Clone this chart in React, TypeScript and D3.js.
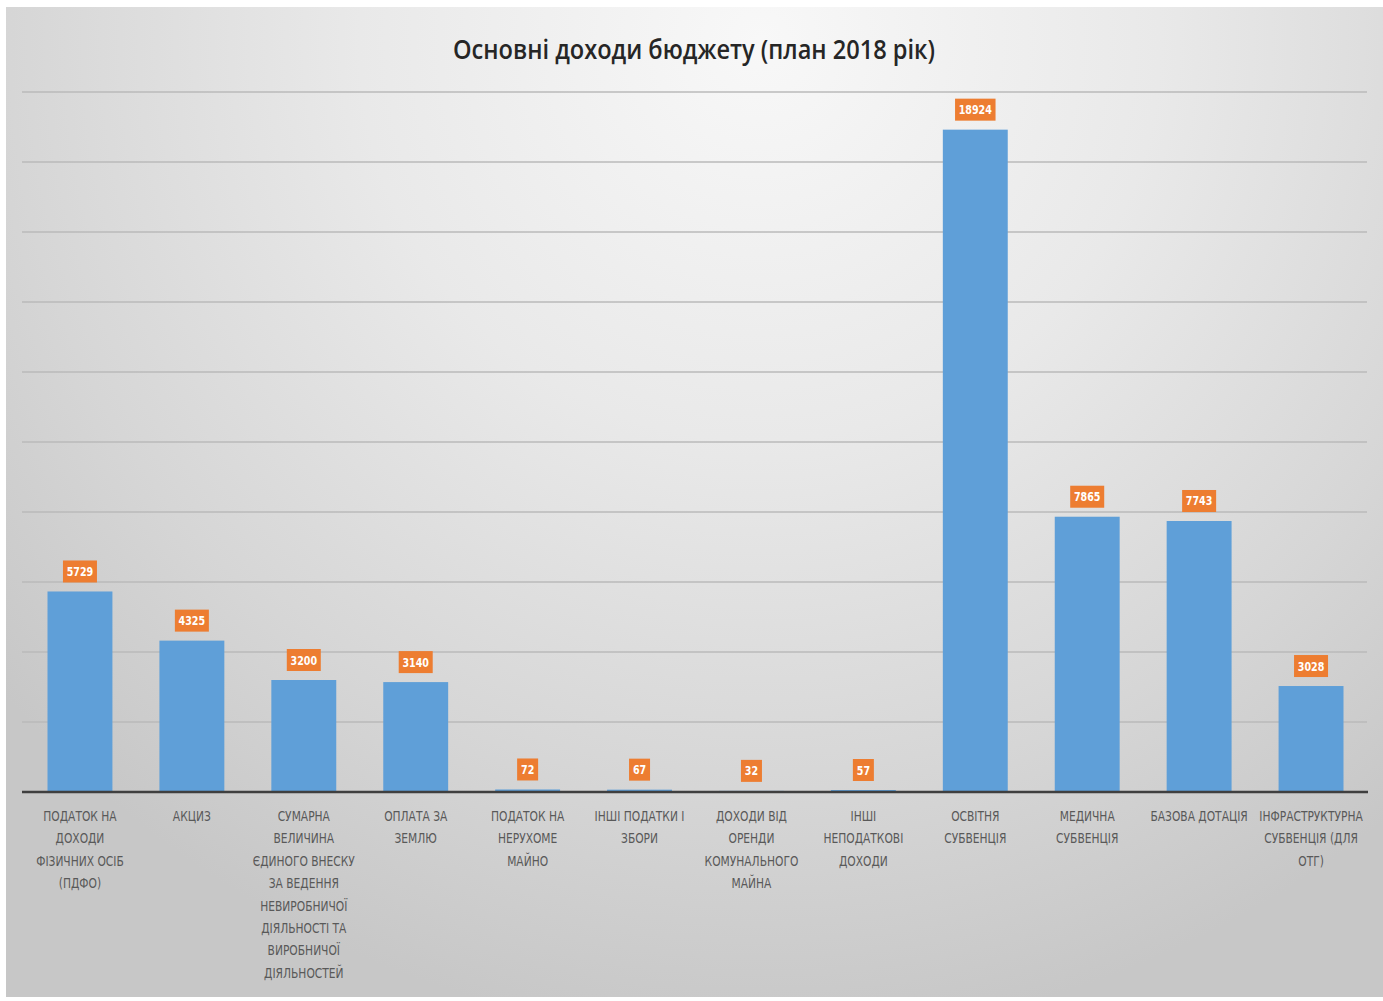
import * as d3 from "d3"

const categories = [
  "ПОДАТОК НА\nДОХОДИ\nФІЗИЧНИХ ОСІБ\n(ПДФО)",
  "АКЦИЗ",
  "СУМАРНА\nВЕЛИЧИНА\nЄДИНОГО ВНЕСКУ\nЗА ВЕДЕННЯ\nНЕВИРОБНИЧОЇ\nДІЯЛЬНОСТІ ТА\nВИРОБНИЧОЇ\nДІЯЛЬНОСТЕЙ",
  "ОПЛАТА ЗА\nЗЕМЛЮ",
  "ПОДАТОК НА\nНЕРУХОМЕ\nМАЙНО",
  "ІНШІ ПОДАТКИ І\nЗБОРИ",
  "ДОХОДИ ВІД\nОРЕНДИ\nКОМУНАЛЬНОГО\nМАЙНА",
  "ІНШІ\nНЕПОДАТКОВІ\nДОХОДИ",
  "ОСВІТНЯ\nСУБВЕНЦІЯ",
  "МЕДИЧНА\nСУБВЕНЦІЯ",
  "БАЗОВА ДОТАЦІЯ",
  "ІНФРАСТРУКТУРНА\nСУБВЕНЦІЯ (ДЛЯ\nОТГ)",
]

const values = [5729, 4325, 3200, 3140, 72, 67, 32, 57, 18924, 7865, 7743, 3028]

const yTicks = [0, 2000, 4000, 6000, 8000, 10000, 12000, 14000, 16000, 18000, 20000]

const title = "Основні доходи бюджету (план 2018 рік)"

const W = 1383
const H = 1001
const narrow = "'Liberation Sans Narrow', 'DejaVu Sans Condensed', 'Liberation Sans', sans-serif"

export default function App() {
  const x = d3.scaleBand<number>()
    .domain(d3.range(categories.length))
    .range([24, 1367])
    .paddingInner(0.42)
    .paddingOuter(0.21)

  const y = d3.scaleLinear().domain([0, 20000]).range([792, 92])

  return (
    <svg width={W} height={H} style={{ position: "absolute", left: 0, top: 0, display: "block" }}>
      <defs>
        <radialGradient id="bg" gradientUnits="userSpaceOnUse" cx={760} cy={40} r={1000} fx={760} fy={40}>
          <stop offset="0%" stopColor="#f8f8f8" />
          <stop offset="40%" stopColor="#e9e9e9" />
          <stop offset="75%" stopColor="#d6d6d6" />
          <stop offset="100%" stopColor="#c7c7c7" />
        </radialGradient>
      </defs>
      <rect x={0} y={0} width={W} height={H} fill="#ffffff" />
      <rect x={6} y={7} width={W - 6} height={990} fill="url(#bg)" />

      {/* сітка */}
      {yTicks.slice(1).map(t => (
        <line key={t} x1={22} x2={1367} y1={y(t)} y2={y(t)} stroke="#bababa" strokeWidth={1.5} />
      ))}

      <text x={694} y={59} textAnchor="middle" fontFamily="'Open Sans', 'Noto Sans', sans-serif"
        fontWeight={600} fontSize={27} fill="#262626" textLength={482} lengthAdjust="spacingAndGlyphs">
        {title}
      </text>

      {values.map((v, i) => (
        <rect key={i} x={x(i)} y={y(v)} width={x.bandwidth()} height={y(0) - y(v)} fill="#5f9fd8" />
      ))}

      <line x1={22} x2={1368} y1={y(0)} y2={y(0)} stroke="#3f3f3f" strokeWidth={2.5} />

      {/* підписи значень */}
      {values.map((v, i) => {
        const label = String(v)
        const bw = label.length * 6.5 + 8
        const cx = (x(i) ?? 0) + x.bandwidth() / 2
        const cy = y(v) - 20
        return (
          <g key={i}>
            <rect x={cx - bw / 2} y={cy - 11} width={bw} height={22} fill="#ed7d31" />
            <text transform={`translate(${cx},${cy + 4.5}) scale(0.85,1)`} textAnchor="middle"
              fontFamily={narrow} fontWeight="bold" fontSize={12.5} fill="#ffffff">{label}</text>
          </g>
        )
      })}

      {/* категорії */}
      {categories.map((c, i) => {
        const cx = (x(i) ?? 0) + x.bandwidth() / 2
        return (
          <g key={i} transform={`translate(${cx},0) scale(0.88,1)`}>
            <text textAnchor="middle" fontFamily={narrow} fontSize={13.5} fill="#595959">
              {c.split("\n").map((line, j) => (
                <tspan key={j} x={0} y={821 + j * 22.4}>{line}</tspan>
              ))}
            </text>
          </g>
        )
      })}
    </svg>
  )
}
